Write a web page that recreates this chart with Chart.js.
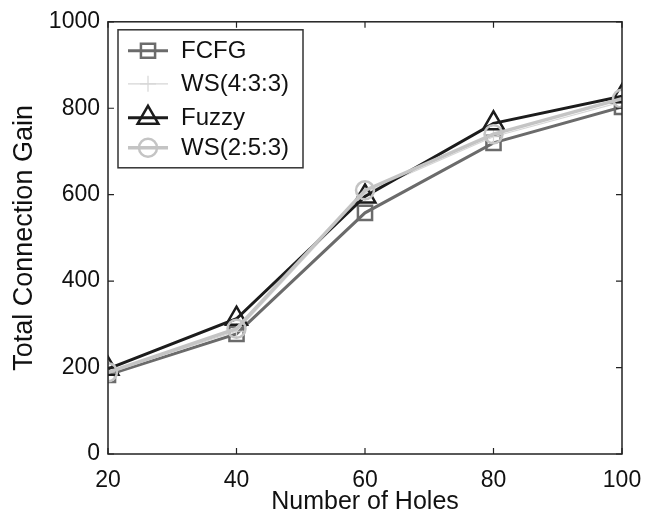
<!DOCTYPE html>
<html>
<head>
<meta charset="utf-8">
<script src="https://cdn.jsdelivr.net/npm/chart.js@4/dist/chart.umd.min.js"></script>
<style>
  html, body { margin: 0; padding: 0; background: #fff; }
  #wrap { width: 659px; height: 517px; }
</style>
</head>
<body>
<div id="wrap"><canvas id="gainChart"></canvas></div>
<script>
// DATA
let holes = [20, 40, 60, 80, 100];
let seriesNames = ['FCFG', 'WS(4:3:3)', 'Fuzzy', 'WS(2:5:3)'];
let fcfg = [183, 278, 558, 720, 803];
let ws433 = [187, 284, 604, 734, 815];
let fuzzy = [197, 313, 596, 765, 828];
let ws253 = [189, 290, 610, 740, 822];
let yTicks = [0, 200, 400, 600, 800, 1000];
let xTicks = [20, 40, 60, 80, 100];

let font = "'Liberation Sans', Arial, sans-serif";

function pts(vals) {
    return holes.map((h, i) => ({ x: h, y: vals[i] }));
}

// box around the plot + ticks pointing inwards, matlab style
let boxPlugin = {
    id: 'box',
    afterDatasetsDraw(chart) {
        let ctx = chart.ctx;
        let a = chart.chartArea;
        let xs = chart.scales.x, ys = chart.scales.y;
        ctx.save();
        ctx.strokeStyle = '#222';
        ctx.lineWidth = 1.5;
        ctx.strokeRect(a.left, a.top, a.right - a.left, a.bottom - a.top);
        ctx.lineWidth = 1.2;
        ctx.beginPath();
        for (let v of xTicks) {
            let px = xs.getPixelForValue(v);
            ctx.moveTo(px, a.bottom); ctx.lineTo(px, a.bottom - 6);
            ctx.moveTo(px, a.top); ctx.lineTo(px, a.top + 6);
        }
        for (let v of yTicks) {
            let py = ys.getPixelForValue(v);
            ctx.moveTo(a.left, py); ctx.lineTo(a.left + 6, py);
            ctx.moveTo(a.right, py); ctx.lineTo(a.right - 6, py);
        }
        ctx.stroke();
        ctx.restore();
    }
};

// legend box inside the plot, top-left
let legendPlugin = {
    id: 'boxLegend',
    afterDraw(chart) {
        let ctx = chart.ctx;
        let a = chart.chartArea;
        let x0 = a.left + 10, y0 = a.top + 8;
        let w = 185, h = 138;
        ctx.save();
        ctx.fillStyle = '#fff';
        ctx.fillRect(x0, y0, w, h);
        ctx.strokeStyle = '#333';
        ctx.lineWidth = 1.5;
        ctx.strokeRect(x0, y0, w, h);
        let rows = [21, 54, 88, 118];
        seriesNames.forEach((name, i) => {
            let ds = chart.data.datasets.find(d => d.label === name);
            let y = y0 + rows[i];
            ctx.strokeStyle = ds.borderColor;
            ctx.lineWidth = ds.borderWidth;
            ctx.beginPath();
            ctx.moveTo(x0 + 10, y);
            ctx.lineTo(x0 + 50, y);
            ctx.stroke();
            ctx.fillStyle = 'rgba(0,0,0,0)';
            ctx.lineWidth = ds.pointBorderWidth;
            Chart.helpers.drawPoint(ctx, {
                pointStyle: ds.pointStyle,
                radius: ds.pointRadius,
                borderWidth: ds.pointBorderWidth
            }, x0 + 30, y);
            ctx.fillStyle = '#111';
            ctx.font = '24px ' + font;
            ctx.textBaseline = 'middle';
            ctx.fillText(name, x0 + 63, y + 1);
        });
        ctx.restore();
    }
};

function makeSet(label, vals, color, width, style, radius, pw, order) {
    return {
        label: label,
        data: pts(vals),
        borderColor: color,
        backgroundColor: 'rgba(0,0,0,0)',
        borderWidth: width,
        pointStyle: style,
        pointRadius: radius,
        pointBorderColor: color,
        pointBackgroundColor: 'rgba(0,0,0,0)',
        pointBorderWidth: pw,
        pointHoverRadius: radius,
        order: order,
        tension: 0
    };
}

let ctx = document.querySelector('#gainChart').getContext('2d');
let gainChart = new Chart(ctx, {
    type: 'line',
    data: {
        datasets: [
            makeSet(seriesNames[0], fcfg, '#6b6b6b', 3, 'rect', 10, 2.5, 3),
            makeSet(seriesNames[1], ws433, '#d6d6d6', 1.2, 'cross', 8, 1.2, 2),
            makeSet(seriesNames[2], fuzzy, '#1c1c1c', 3, 'triangle', 12, 2.5, 1),
            makeSet(seriesNames[3], ws253, '#c4c4c4', 3.5, 'circle', 9, 2.5, 0)
        ]
    },
    options: {
        responsive: true,
        maintainAspectRatio: false,
        animation: false,
        layout: { padding: { left: 0, right: 37, top: 19, bottom: 0 } },
        plugins: {
            legend: { display: false },
            tooltip: { enabled: false }
        },
        scales: {
            x: {
                type: 'linear',
                min: 20,
                max: 100,
                afterBuildTicks: (s) => { s.ticks = xTicks.map(v => ({ value: v })); },
                afterFit: (s) => { s.height = 63; },
                grid: { display: false, drawTicks: false },
                border: { display: false },
                ticks: {
                    color: '#111',
                    padding: 13,
                    maxRotation: 0,
                    callback: (v) => String(v),
                    font: { family: font, size: 23 }
                },
                title: {
                    display: true,
                    text: 'Number of Holes',
                    color: '#111',
                    padding: { top: 0, bottom: 0 },
                    font: { family: font, size: 25 }
                }
            },
            y: {
                min: 0,
                max: 1000,
                afterBuildTicks: (s) => { s.ticks = yTicks.map(v => ({ value: v })); },
                afterFit: (s) => { s.width = 108; },
                grid: { display: false, drawTicks: false },
                border: { display: false },
                ticks: {
                    color: '#111',
                    padding: 8,
                    callback: (v) => String(v),
                    font: { family: font, size: 23 }
                },
                title: {
                    display: true,
                    text: 'Total Connection Gain',
                    color: '#111',
                    padding: { top: 8, bottom: 0 },
                    font: { family: font, size: 27 }
                }
            }
        }
    },
    plugins: [boxPlugin, legendPlugin]
});
</script>
</body>
</html>
